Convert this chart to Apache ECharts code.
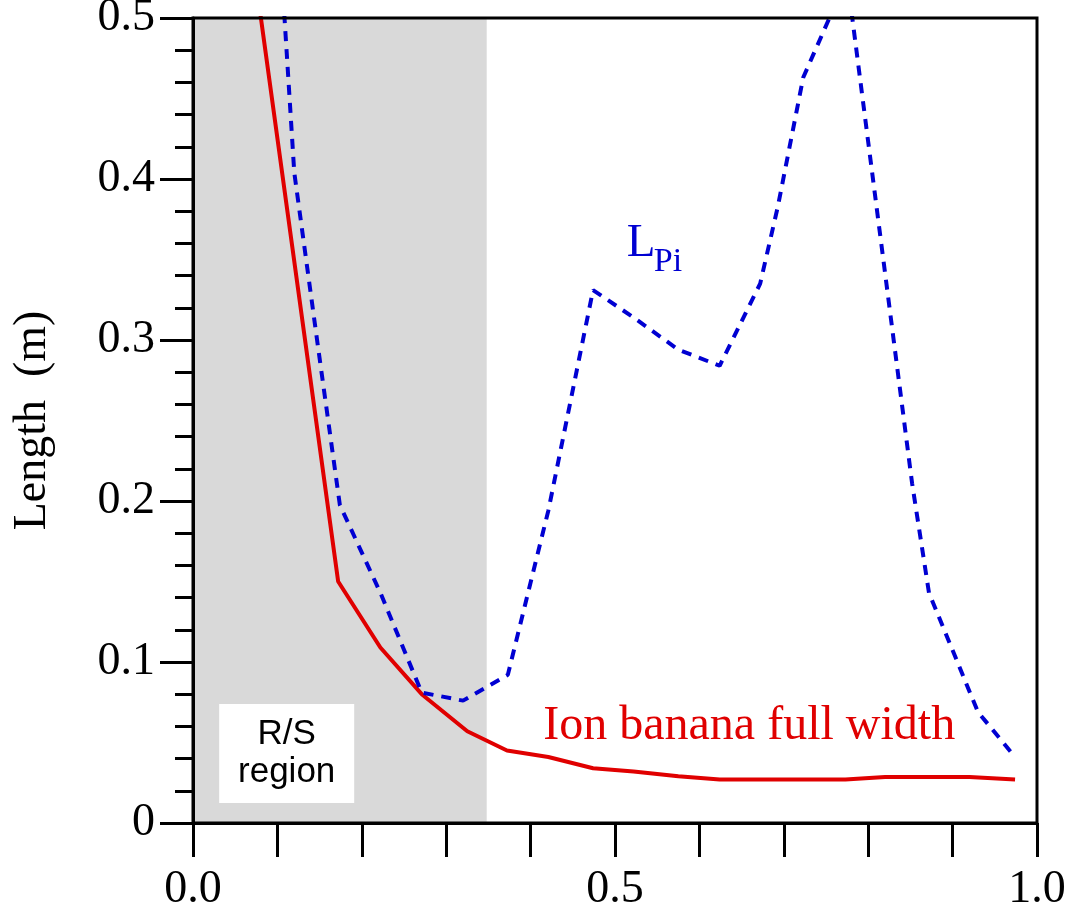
<!DOCTYPE html>
<html>
<head>
<meta charset="utf-8">
<script src="https://cdn.jsdelivr.net/npm/echarts@6/dist/echarts.min.js"></script>
<style>
  html, body { margin: 0; padding: 0; background: #fff; }
  #chart { width: 1073px; height: 911px; }
</style>
</head>
<body>
<div id="chart"></div>
<script>
// Normalised radius vs. length (m)
const bananaWidth = [
  [0.070, 0.540], [0.172, 0.150], [0.222, 0.109], [0.271, 0.080],
  [0.325, 0.057], [0.372, 0.045], [0.421, 0.041], [0.474, 0.034],
  [0.522, 0.032], [0.575, 0.029], [0.624, 0.027], [0.773, 0.027],
  [0.820, 0.0286], [0.920, 0.0286], [0.974, 0.027]
];
const lPi = [
  [0.100, 0.570], [0.120, 0.404], [0.147, 0.300], [0.174, 0.1975],
  [0.222, 0.143], [0.271, 0.081], [0.320, 0.076], [0.373, 0.092],
  [0.421, 0.194], [0.474, 0.331], [0.522, 0.314], [0.575, 0.294],
  [0.624, 0.284], [0.672, 0.335], [0.693, 0.383], [0.723, 0.463],
  [0.775, 0.525], [0.852, 0.211], [0.872, 0.143], [0.930, 0.069],
  [0.974, 0.041]
];
const rsRegion = [0, 0.348];
const rsLabelBox = { x: [0.031, 0.191], y: [0.0124, 0.0739] };
const xTickLabels = { 0: '0.0', 5: '0.5', 10: '1.0' };

const RED = '#e00000';
const BLUE = '#0000d2';
const SERIF = '"Liberation Serif", "Times New Roman", serif';

const chart = echarts.init(document.getElementById('chart'));

const axisCommon = {
  axisLine: { show: true, lineStyle: { color: '#000', width: 3 } },
  splitLine: { show: false },
  z: 10
};

chart.setOption({
  animation: false,
  backgroundColor: '#fff',
  grid: {
    left: 193, right: 36, top: 18, bottom: 88,
    outerBoundsMode: 'none', containLabel: false,
    show: true, borderColor: '#000', borderWidth: 3,
    backgroundColor: 'transparent', z: 10
  },
  xAxis: Object.assign({}, axisCommon, {
    type: 'value', min: 0, max: 1, interval: 0.1,
    axisTick: { show: true, length: 34, lineStyle: { color: '#000', width: 3 } },
    axisLabel: {
      margin: 44, color: '#000', fontFamily: SERIF, fontSize: 46,
      formatter: v => {
        const k = Math.round(v * 10);
        return xTickLabels[k] !== undefined ? xTickLabels[k] : '';
      }
    }
  }),
  yAxis: Object.assign({}, axisCommon, {
    type: 'value', min: 0, max: 0.5, interval: 0.1,
    name: 'Length  (m)', nameLocation: 'middle', nameGap: 137, nameRotate: 90,
    nameTextStyle: { color: '#000', fontFamily: SERIF, fontSize: 46 },
    axisTick: { show: true, length: 33, lineStyle: { color: '#000', width: 3 } },
    minorTick: { show: true, splitNumber: 5, length: 18, lineStyle: { color: '#000', width: 3 } },
    axisLabel: {
      margin: 38, color: '#000', fontFamily: SERIF, fontSize: 46,
      formatter: v => (v === 0 ? '0' : v.toFixed(1))
    }
  }),
  series: [
    {
      // shaded R/S region and its label box
      type: 'line', data: [], z: 1, silent: true,
      markArea: {
        silent: true,
        data: [
          [
            { xAxis: rsRegion[0], yAxis: 0, itemStyle: { color: '#d9d9d9' } },
            { xAxis: rsRegion[1], yAxis: 0.5 }
          ],
          [
            {
              xAxis: rsLabelBox.x[0], yAxis: rsLabelBox.y[0],
              itemStyle: { color: '#fff' },
              label: {
                show: true, position: 'inside', formatter: 'R/S\nregion',
                color: '#000', fontFamily: '"Liberation Sans", Arial, sans-serif',
                fontSize: 35, lineHeight: 38
              }
            },
            { xAxis: rsLabelBox.x[1], yAxis: rsLabelBox.y[1] }
          ]
        ]
      }
    },
    {
      name: 'Ion banana full width',
      type: 'line', data: bananaWidth, z: 3,
      showSymbol: false, symbol: 'none',
      lineStyle: { color: RED, width: 4 }
    },
    {
      name: 'LPi',
      type: 'line', data: lPi, z: 4,
      showSymbol: false, symbol: 'none',
      lineStyle: { color: BLUE, width: 4, type: [10, 8], cap: 'butt' }
    }
  ]
});

// curve labels anchored in data coordinates (baseline positions)
const pBanana = chart.convertToPixel({ gridIndex: 0 }, [0.415, 0.0505]);
const pL = chart.convertToPixel({ gridIndex: 0 }, [0.514, 0.351]);
const pSub = chart.convertToPixel({ gridIndex: 0 }, [0.546, 0.342]);
chart.setOption({
  graphic: [
    {
      type: 'text', left: pBanana[0], top: pBanana[1] - 39, z: 20,
      style: { text: 'Ion banana full width', fill: RED, font: '48px ' + SERIF }
    },
    {
      type: 'text', left: pL[0], top: pL[1] - 38, z: 20,
      style: { text: 'L', fill: BLUE, font: '47px ' + SERIF }
    },
    {
      type: 'text', left: pSub[0], top: pSub[1] - 27, z: 20,
      style: { text: 'Pi', fill: BLUE, font: '34px ' + SERIF }
    }
  ]
});
</script>
</body>
</html>
